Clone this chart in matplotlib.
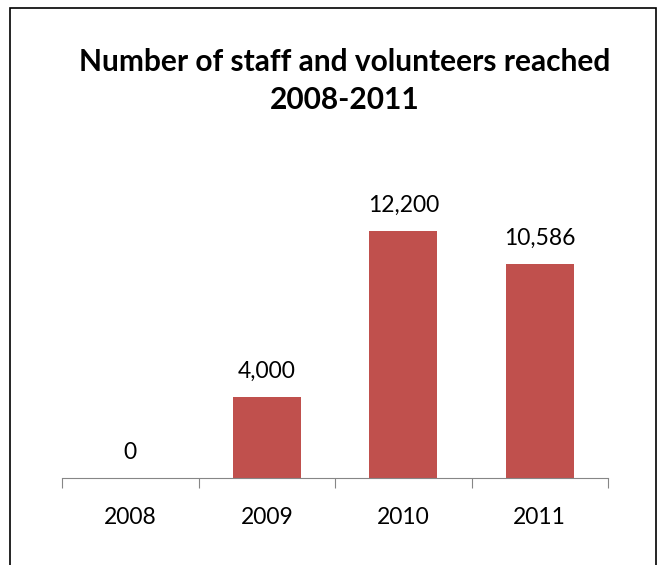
import matplotlib
matplotlib.use("Agg")
import matplotlib.pyplot as plt
from matplotlib.patches import Rectangle

years = ["2008", "2009", "2010", "2011"]
reached = [0, 4000, 12200, 10586]
value_labels = ["0", "4,000", "12,200", "10,586"]

plt.rcParams['font.family'] = ['Lato', 'DejaVu Sans']

fig = plt.figure(figsize=(6.64, 5.65), dpi=100)
ax = fig.add_axes([62 / 664, 1 - 478 / 565, 546 / 664, 283.5 / 565])

x = range(len(years))
ax.bar(x, reached, width=0.5, color="#C0504D", zorder=2)
ax.set_xlim(-0.5, len(years) - 0.5)
ax.set_ylim(0, 14000)

for xi, v, lab in zip(x, reached, value_labels):
    ax.annotate(lab, (xi, v), xytext=(0, 11), textcoords="offset points",
                ha="center", va="bottom", fontsize=16.5)

# category axis with ticks between groups
for s in ["left", "right", "top"]:
    ax.spines[s].set_visible(False)
ax.spines["bottom"].set_color("#868686")
ax.set_yticks([])
ax.set_xticks([i - 0.5 for i in range(len(years) + 1)], minor=False)
ax.set_xticklabels([])
ax.tick_params(axis="x", length=7, color="#868686", direction="out")
ax.set_xticks(list(x), minor=True)
ax.set_xticklabels(years, minor=True, fontsize=16.5)
ax.tick_params(axis="x", which="minor", length=0, pad=21)

fig.text(345 / 664, 1 - 62 / 565, "Number of staff and volunteers reached",
         ha="center", va="center", fontsize=21.5, fontweight="bold")
fig.text(345 / 664, 1 - 100 / 565, "2008-2011",
         ha="center", va="center", fontsize=21.5, fontweight="bold")

fig.patches.append(Rectangle((10 / 664, -0.05), 646 / 664, 1.05 - 8 / 565,
                             transform=fig.transFigure, fill=False,
                             edgecolor="black", linewidth=1.2))

fig.savefig("out.png", dpi=100)
